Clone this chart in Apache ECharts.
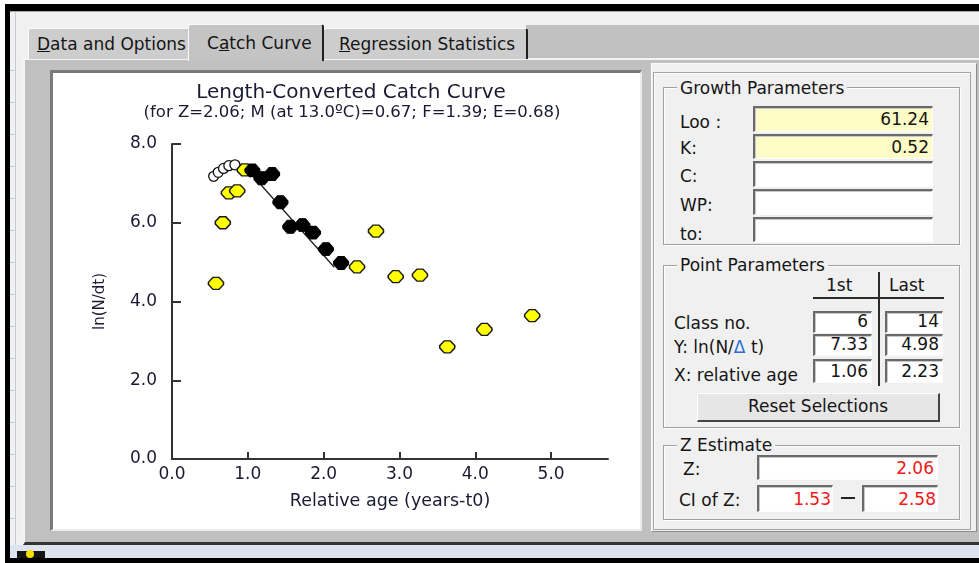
<!DOCTYPE html>
<html>
<head>
<meta charset="utf-8">
<script src="https://cdn.jsdelivr.net/npm/echarts@6.0.0/dist/echarts.min.js"></script>
<style>
html,body{margin:0;padding:0;}
body{width:979px;height:563px;overflow:hidden;position:relative;background:#fff;font-family:"DejaVu Sans",sans-serif;font-size:17px;color:#151515;}
.a{position:absolute;box-sizing:border-box;}
.t{position:absolute;white-space:nowrap;line-height:20px;height:20px;}
.box{position:absolute;box-sizing:border-box;background:#fff;border-top:2px solid #6a6a6a;border-left:2px solid #6a6a6a;border-bottom:1px solid #fdfdfd;border-right:1px solid #fdfdfd;box-shadow:inset 1px 1px 0 #c8c8c8;text-align:right;white-space:nowrap;padding-right:3px;}
.yel{background:#fdfbc6;}
.red{color:#f01818;}
.grp{position:absolute;box-sizing:border-box;border:1px solid #a0a0a0;box-shadow:1px 1px 0 #fff, inset 1px 1px 0 #fff;}
.gt{position:absolute;background:#f0f0f0;padding:0 3px;line-height:20px;white-space:nowrap;}
.tab{position:absolute;box-sizing:border-box;background:#cdcdcd;border-top:1px solid #fafafa;border-left:1px solid #fafafa;border-right:2px solid #6a6a6a;border-radius:3px 3px 0 0;line-height:20px;white-space:nowrap;}
</style>
</head>
<body>
<!-- window chrome -->
<div class="a" style="left:10px;top:11px;width:969px;height:547px;background:#f0f0f0"></div>
<div class="a" style="left:10px;top:11px;width:969px;height:1px;background:#a8a8a8"></div>
<div class="a" style="left:15px;top:12px;width:1px;height:533px;background:#c4cadb"></div>
<div class="a" style="left:10px;top:70px;width:5px;height:1px;background:#c4cadb"></div>
<div class="a" style="left:10px;top:102px;width:5px;height:1px;background:#c4cadb"></div>
<div class="a" style="left:10px;top:134px;width:5px;height:1px;background:#c4cadb"></div>
<div class="a" style="left:10px;top:166px;width:5px;height:1px;background:#c4cadb"></div>
<div class="a" style="left:10px;top:198px;width:5px;height:1px;background:#c4cadb"></div>
<div class="a" style="left:10px;top:230px;width:5px;height:1px;background:#c4cadb"></div>
<div class="a" style="left:10px;top:262px;width:5px;height:1px;background:#c4cadb"></div>
<div class="a" style="left:10px;top:294px;width:5px;height:1px;background:#c4cadb"></div>
<div class="a" style="left:10px;top:326px;width:5px;height:1px;background:#c4cadb"></div>
<div class="a" style="left:10px;top:358px;width:5px;height:1px;background:#c4cadb"></div>
<div class="a" style="left:10px;top:390px;width:5px;height:1px;background:#c4cadb"></div>
<div class="a" style="left:10px;top:422px;width:5px;height:1px;background:#c4cadb"></div>
<div class="a" style="left:10px;top:454px;width:5px;height:1px;background:#c4cadb"></div>
<div class="a" style="left:10px;top:486px;width:5px;height:1px;background:#c4cadb"></div>
<div class="a" style="left:10px;top:518px;width:5px;height:1px;background:#c4cadb"></div>

<!-- tab strip gray to the right of tabs -->
<div class="a" style="left:526px;top:25px;width:453px;height:35px;background:#c0c0c0"></div>
<!-- tab body -->
<div class="a" style="left:23px;top:58px;width:956px;height:487px;background:#c0c0c0;border-top:2px solid #f4f4f4;border-left:2px solid #f4f4f4;border-bottom:3px solid #343434"></div>

<!-- tabs -->
<div class="tab" style="left:28px;top:28px;width:162px;height:31px;padding-left:8px;padding-top:5px"><u>D</u>ata and Options</div>
<div class="tab" style="left:323px;top:28px;width:205px;height:31px;padding-left:15px;padding-top:5px;border-right:2px solid #1e1e1e"><u>R</u>egression Statistics</div>
<div class="tab" style="left:188px;top:24px;width:136px;height:37px;padding-left:18px;padding-top:8px;background:#c4c4c4;border-right:2px solid #1e1e1e">C<u>a</u>tch Curve</div>

<!-- status strip -->
<div class="a" style="left:10px;top:545px;width:969px;height:13px;background:#dde4ef"></div>
<div class="a" style="left:17px;top:551px;width:28px;height:7px;background:#151515"></div>
<div class="a" style="left:26px;top:550px;width:8px;height:8px;border-radius:4px;background:#f4e000"></div>
<!-- black frame -->
<div class="a" style="left:5px;top:4px;width:974px;height:7px;background:#000"></div>
<div class="a" style="left:5px;top:4px;width:5px;height:559px;background:#000"></div>
<div class="a" style="left:5px;top:558px;width:974px;height:5px;background:#000"></div>

<!-- chart panel -->
<div class="a" style="left:50px;top:70px;width:592px;height:461px;background:#fff;border-top:3px solid #7a7a7a;border-left:3px solid #7a7a7a;border-right:2px solid #ececec;border-bottom:2px solid #ececec"></div>
<div id="chart" class="a" style="left:53px;top:73px;width:587px;height:456px"></div>

<!-- right panel -->
<div class="a" style="left:651px;top:63px;width:326px;height:469px;background:#f0f0f0;border-top:1px solid #fbfbfb;border-left:1px solid #fbfbfb;border-right:1px solid #8c8c8c;border-bottom:1px solid #8c8c8c"></div>
<div class="a" style="left:653px;top:72px;width:318px;height:458px;border:1px solid #a4a4a4;box-shadow:inset 1px 1px 0 #fff"></div>

<!-- Growth Parameters -->
<div class="grp" style="left:663px;top:87px;width:297px;height:158px"></div>
<div class="gt" style="left:677px;top:78px">Growth Parameters</div>
<div class="t" style="left:680px;top:112px">Loo :</div>
<div class="t" style="left:680px;top:138px">K:</div>
<div class="t" style="left:680px;top:166px">C:</div>
<div class="t" style="left:680px;top:195px">WP:</div>
<div class="t" style="left:680px;top:224px">to:</div>
<div class="box yel" style="left:753px;top:106px;width:180px;height:26px;line-height:23px">61.24</div>
<div class="box yel" style="left:753px;top:134px;width:180px;height:25px;line-height:22px">0.52</div>
<div class="box" style="left:753px;top:161px;width:180px;height:26px"></div>
<div class="box" style="left:753px;top:189px;width:180px;height:26px"></div>
<div class="box" style="left:753px;top:217px;width:180px;height:25px"></div>

<!-- Point Parameters -->
<div class="grp" style="left:663px;top:265px;width:297px;height:163px"></div>
<div class="gt" style="left:677px;top:255px">Point Parameters</div>
<div class="t" style="left:826px;top:275px">1st</div>
<div class="t" style="left:889px;top:275px">Last</div>
<div class="a" style="left:878px;top:272px;width:2px;height:114px;background:#2a2a2a"></div>
<div class="a" style="left:813px;top:297px;width:131px;height:2px;background:#2a2a2a"></div>
<div class="t" style="left:674px;top:313px">Class no.</div>
<div class="t" style="left:674px;top:337px">Y: ln(N/<span style="color:#2a6fd6">Δ</span> t)</div>
<div class="t" style="left:674px;top:365px">X: relative age</div>
<div class="box" style="left:813px;top:311px;width:59px;height:22px;line-height:17px">6</div>
<div class="box" style="left:885px;top:311px;width:58px;height:22px;line-height:17px">14</div>
<div class="box" style="left:813px;top:334px;width:59px;height:22px;line-height:17px">7.33</div>
<div class="box" style="left:885px;top:334px;width:58px;height:22px;line-height:17px">4.98</div>
<div class="box" style="left:813px;top:359px;width:59px;height:24px;line-height:21px">1.06</div>
<div class="box" style="left:885px;top:359px;width:58px;height:24px;line-height:21px">2.23</div>
<div class="a" style="left:697px;top:393px;width:243px;height:29px;background:#e6e6e6;border-top:1px solid #fff;border-left:1px solid #fff;border-right:2px solid #454545;border-bottom:2px solid #454545;text-align:center;line-height:25px">Reset Selections</div>

<!-- Z Estimate -->
<div class="grp" style="left:663px;top:445px;width:297px;height:75px"></div>
<div class="gt" style="left:677px;top:435px">Z Estimate</div>
<div class="t" style="left:683px;top:459px">Z:</div>
<div class="t" style="left:679px;top:490px">CI of Z:</div>
<div class="box red" style="left:757px;top:455px;width:181px;height:25px;line-height:22px">2.06</div>
<div class="box red" style="left:757px;top:485px;width:76px;height:27px;line-height:24px;padding-right:1px">1.53</div>
<div class="a" style="left:841px;top:497px;width:14px;height:2px;background:#222"></div>
<div class="box red" style="left:862px;top:485px;width:76px;height:27px;line-height:24px;padding-right:1px">2.58</div>

<script>
// ---- data ----
const openAge   = [0.55, 0.61, 0.68, 0.75, 0.83];
const openLn    = [7.18, 7.28, 7.38, 7.45, 7.47];
const yellowAge = [0.58, 0.67, 0.75, 0.86, 0.96, 2.44, 2.69, 2.95, 3.27, 3.63, 4.12, 4.75];
const yellowLn  = [4.46, 6.00, 6.76, 6.81, 7.34, 4.88, 5.79, 4.63, 4.67, 2.85, 3.29, 3.64];
const selAge    = [1.06, 1.18, 1.32, 1.43, 1.56, 1.72, 1.86, 2.03, 2.23];
const selLn     = [7.33, 7.13, 7.24, 6.52, 5.90, 5.94, 5.75, 5.33, 4.98];
const fitAge    = [1.04, 2.14];
const fitLn     = [7.25, 4.87];
const xTicks    = [0, 1, 2, 3, 4, 5];
const yTicks    = [0, 2, 4, 6, 8];
const chartTitle = 'Length-Converted Catch Curve';
const chartSub   = '(for Z=2.06; M (at 13.0ºC)=0.67; F=1.39; E=0.68)';
const xName = 'Relative age (years-t0)';
const yName = 'ln(N/dt)';

const pts = (xs, ys) => xs.map((x, i) => [x, ys[i]]);
const FONT = 'DejaVu Sans';
const OCT = 'path://M3,0 L7,0 L10,4 L10,6 L7,10 L3,10 L0,6 L0,4 Z';

const chart = echarts.init(document.getElementById('chart'), null, {renderer: 'canvas'});
chart.setOption({
  animation: false,
  backgroundColor: '#ffffff',
  grid: {left: 119, top: 71, right: 32, bottom: 70},
  graphic: [
    {type: 'text', x: 298, y: 20, style: {text: chartTitle, font: '20px "DejaVu Sans"', fill: '#1a1a33', align: 'center', verticalAlign: 'middle'}},
    {type: 'text', x: 299, y: 40, style: {text: chartSub, font: '16.5px "DejaVu Sans"', fill: '#1a1a33', align: 'center', verticalAlign: 'middle'}}
  ],
  xAxis: {
    type: 'value', min: 0, max: 5.75,
    name: xName, nameLocation: 'middle', nameGap: 33,
    nameTextStyle: {fontFamily: FONT, fontSize: 17.5, color: '#1a1a33'},
    axisLine: {show: true, onZero: false, lineStyle: {color: '#333', width: 2}},
    axisTick: {show: true, inside: true, length: 7, customValues: xTicks, lineStyle: {color: '#333', width: 2}},
    axisLabel: {customValues: xTicks, formatter: v => v.toFixed(1), margin: 7, fontFamily: FONT, fontSize: 17, color: '#1a1a33'},
    splitLine: {show: false}
  },
  yAxis: {
    type: 'value', min: 0, max: 8, interval: 2,
    name: yName, nameLocation: 'middle', nameGap: 64,
    nameTextStyle: {fontFamily: FONT, fontSize: 15, color: '#1a1a33'},
    axisLine: {show: true, onZero: false, lineStyle: {color: '#333', width: 2}},
    axisTick: {show: true, inside: true, length: 9, customValues: yTicks, lineStyle: {color: '#333', width: 2}},
    axisLabel: {customValues: yTicks, formatter: v => v.toFixed(1), margin: 15, fontFamily: FONT, fontSize: 17, color: '#1a1a33'},
    splitLine: {show: false}
  },
  series: [
    {type: 'line', data: pts(fitAge, fitLn), symbol: 'none', lineStyle: {color: '#222', width: 1.3}, z: 2, silent: true},
    {type: 'scatter', data: pts(openAge, openLn), symbol: 'circle', symbolSize: 10,
     itemStyle: {color: '#fff', borderColor: '#111', borderWidth: 1.3, opacity: 1}, z: 3, silent: true},
    {type: 'scatter', data: pts(yellowAge, yellowLn), symbol: OCT, symbolSize: [15, 12],
     itemStyle: {color: '#ffff00', borderColor: '#1a1a1a', borderWidth: 1.4, opacity: 1}, z: 4, silent: true},
    {type: 'scatter', data: pts(selAge, selLn), symbol: OCT, symbolSize: [15, 13],
     itemStyle: {color: '#000', borderColor: '#000', borderWidth: 1, opacity: 1}, z: 5, silent: true}
  ]
});
</script>
</body>
</html>
